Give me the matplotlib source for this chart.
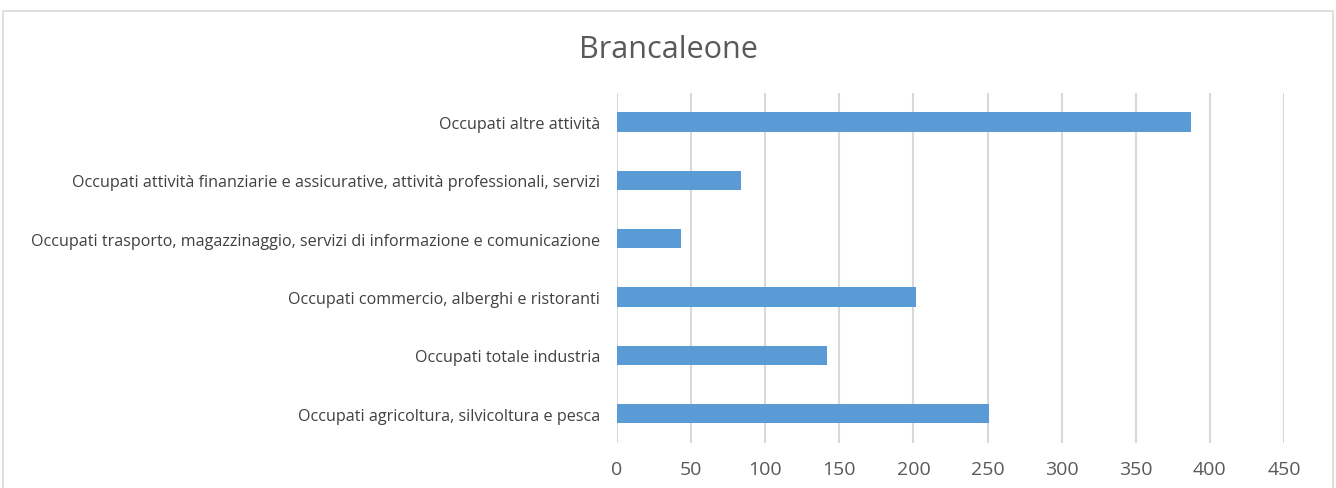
import matplotlib.pyplot as plt
from matplotlib.patches import Rectangle

# data, bottom to top as drawn
categories = [
    "Occupati agricoltura, silvicoltura e pesca",
    "Occupati totale industria",
    "Occupati commercio, alberghi e ristoranti",
    "Occupati trasporto, magazzinaggio, servizi di informazione e comunicazione",
    "Occupati attività finanziarie e assicurative, attività professionali, servizi",
    "Occupati altre attività",
]
values = [251, 142, 202, 43, 84, 387]
xticks = [0, 50, 100, 150, 200, 250, 300, 350, 400, 450]

plt.rcParams['font.family'] = ['Open Sans', 'DejaVu Sans']

fig = plt.figure(figsize=(13.36, 4.89), dpi=100)
ax = fig.add_axes([0.4618, 0.092, 0.4993, 0.716])

# chart border
fig.patches.append(Rectangle((3 / 1336, -0.05), 1330 / 1336, 1 - 12 / 489 + 0.05,
                             transform=fig.transFigure, fill=False,
                             edgecolor='#D9D9D9', linewidth=1.2))

ax.barh(range(len(values)), values, height=0.33, color='#5B9BD5', zorder=3)

ax.set_xlim(0, 450)
ax.set_ylim(-0.5, len(values) - 0.5)
ax.set_xticks(xticks)
ax.set_xticklabels([str(t) for t in xticks], fontsize=14, color='#595959')
ax.set_yticks(range(len(categories)))
ax.set_yticklabels(categories, fontsize=11.6, color='#404040')
ax.tick_params(axis='both', length=0)
ax.tick_params(axis='x', pad=12)
ax.tick_params(axis='y', pad=12)
ax.grid(axis='x', color='#D9D9D9', linewidth=1.5, zorder=0)
for s in ax.spines.values():
    s.set_visible(False)

fig.text(0.5, 1 - 50 / 489, "Brancaleone", ha='center', va='center',
         fontsize=22, color='#595959')

fig.savefig("out.png", dpi=100)
